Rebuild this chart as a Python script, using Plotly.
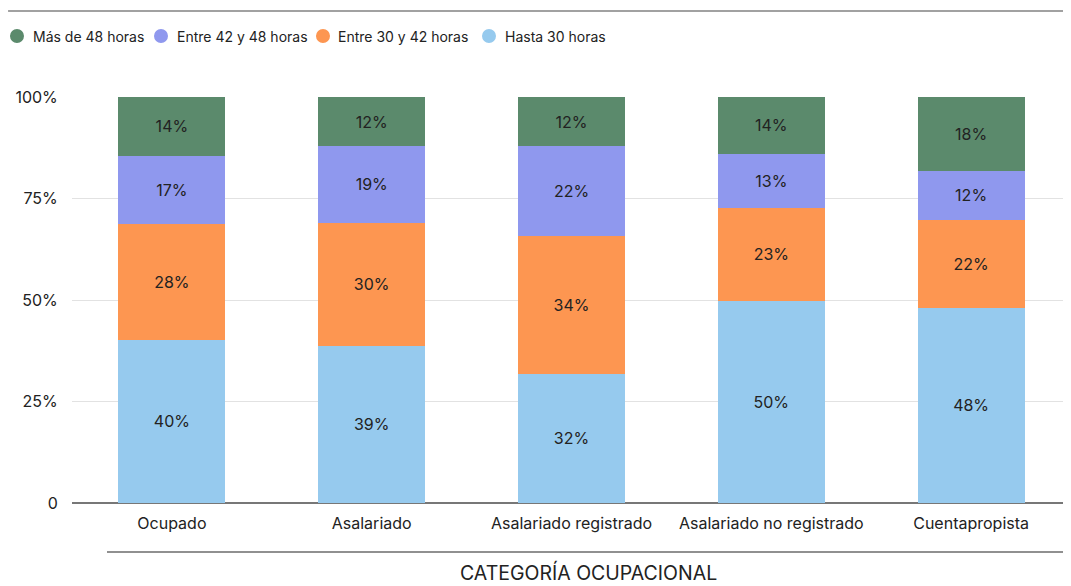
import plotly.graph_objects as go

categories = ["Ocupado", "Asalariado", "Asalariado registrado", "Asalariado no registrado", "Cuentapropista"]
hasta_30 = [40.2, 38.7, 31.8, 49.8, 48.1]
entre_30_42 = [28.4, 30.3, 34.0, 22.9, 21.7]
entre_42_48 = [16.9, 18.9, 22.1, 13.3, 12.0]
mas_48 = [14.5, 12.1, 12.1, 14.0, 18.2]

series = [
    ("Hasta 30 horas", hasta_30, "#96caee"),
    ("Entre 30 y 42 horas", entre_30_42, "#fd9651"),
    ("Entre 42 y 48 horas", entre_42_48, "#8f98ee"),
    ("Más de 48 horas", mas_48, "#5b8a6c"),
]
legend_order = ["Más de 48 horas", "Entre 42 y 48 horas", "Entre 30 y 42 horas", "Hasta 30 horas"]
colors = {n: c for n, _, c in series}

y_tickvals = [0, 25, 50, 75, 100]
y_ticktext = ["0", "25%", "50%", "75%", "100%"]

FONT = "Inter, Roboto, sans-serif"

# legend layout (paper coordinates)
legend_marker_x = [-0.05506, 0.08909, 0.25125, 0.41742]
legend_text_x = [-0.04104, 0.10310, 0.26426, 0.43143]
legend_y = 1.1502

fig = go.Figure()
for name, vals, color in series:
    fig.add_trace(go.Bar(
        x=categories, y=vals, name=name, marker=dict(color=color, line=dict(width=0)),
        text=[f"{v:.0f}%" for v in vals], textposition="inside", insidetextanchor="middle",
        textangle=0, textfont=dict(color="#222222", size=16, family=FONT),
        showlegend=False, hoverinfo="skip",
    ))

shapes = [
    dict(type="line", xref="paper", yref="paper", x0=-0.064, x1=1.0, y0=1.2118, y1=1.2118,
         line=dict(color="#444444", width=1.2)),
    dict(type="line", xref="paper", yref="paper", x0=0.035, x1=1.0, y0=-0.1207, y1=-0.1207,
         line=dict(color="#222222", width=1.2)),
]
annotations = [
    dict(text="CATEGORÍA OCUPACIONAL", xref="paper", yref="paper", x=0.517, y=-0.17,
         xanchor="center", yanchor="middle", showarrow=False,
         font=dict(size=19.5, color="#222222", family=FONT)),
]
for name, mx, tx in zip(legend_order, legend_marker_x, legend_text_x):
    shapes.append(dict(type="circle", xref="paper", yref="paper",
                       xsizemode="pixel", ysizemode="pixel",
                       xanchor=mx, yanchor=legend_y, x0=-7, x1=7, y0=-7, y1=7,
                       fillcolor=colors[name], line=dict(width=0)))
    annotations.append(dict(text=name, xref="paper", yref="paper", x=tx, y=legend_y,
                            xanchor="left", yanchor="middle", showarrow=False,
                            font=dict(size=14, color="#222222", family=FONT)))

fig.update_layout(
    barmode="stack",
    bargap=0.465,
    showlegend=False,
    width=1063, height=578,
    margin=dict(l=64, r=0, t=89, b=83),
    paper_bgcolor="white", plot_bgcolor="white",
    font=dict(family=FONT, size=16, color="#222222"),
    xaxis=dict(showgrid=False, showline=False, ticks="outside", ticklen=6,
               tickcolor="rgba(0,0,0,0)", tickfont=dict(size=16, color="#222222"),
               zeroline=False),
    yaxis=dict(range=[0, 100], tickvals=y_tickvals, ticktext=y_ticktext,
               showgrid=True, gridcolor="#e2e2e2", gridwidth=1,
               zeroline=True, zerolinecolor="#777777", zerolinewidth=1.5,
               ticks="outside", ticklen=10, tickcolor="rgba(0,0,0,0)",
               tickfont=dict(size=16, color="#222222"), showline=False),
    shapes=shapes,
    annotations=annotations,
)

fig.write_html("out.html")
